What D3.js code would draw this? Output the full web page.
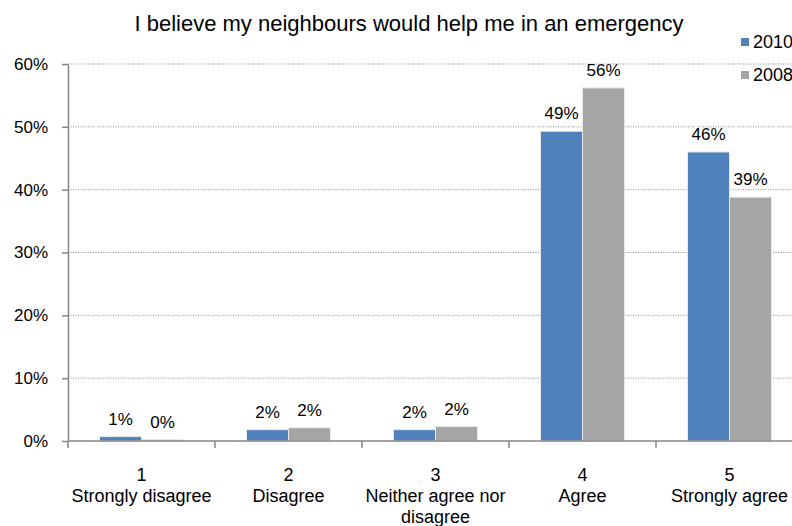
<!DOCTYPE html>
<html>
<head>
<meta charset="utf-8">
<script src="https://cdn.jsdelivr.net/npm/d3@7"></script>
<style>
body { margin: 0; background: #fff; }
text { font-family: "Liberation Sans", Arial, sans-serif; fill: #000; }
</style>
</head>
<body>
<div class="container"></div>
<script>
const wd = 792
const ht = 526

// data
const cats = ["1", "2", "3", "4", "5"]
const catLabels = [["Strongly disagree"], ["Disagree"], ["Neither agree nor", "disagree"], ["Agree"], ["Strongly agree"]]
const series = ["2010", "2008"]
const vals2010 = [0.7, 1.8, 1.8, 49.3, 46.0]
const vals2008 = [0.2, 2.1, 2.3, 56.2, 38.8]
const yTicks = [0, 10, 20, 30, 40, 50, 60]
const colors = ["#4f81bd", "#a5a5a5"]

const svgC = d3.select(".container")
.append("svg")
.attr("width", wd)
.attr("height", ht)

const mLeft = 68, mRight = 803, mTop = 64, mBottom = 441

const x = d3.scaleBand()
.domain(cats)
.range([mLeft, mRight])

const xs = d3.scaleBand()
.domain(series)
.range([0, x.bandwidth()])
.paddingInner(0)
.paddingOuter(0.75)

const y = d3.scaleLinear()
.domain([0, 60])
.range([mBottom, mTop])

// gridlines
svgC.append("g")
.selectAll("line")
.data(yTicks.slice(1))
.join("line")
.attr("x1", mLeft)
.attr("x2", wd)
.attr("y1", d => y(d))
.attr("y2", d => y(d))
.attr("stroke", "#8c8c8c")
.attr("stroke-width", 1)
.attr("stroke-dasharray", "1,1.5")

// y axis
const yAxis = svgC.append("g")
.attr("transform", `translate(${mLeft},0)`)
.call(d3.axisLeft(y).tickValues(yTicks).tickFormat(d => d + "%").tickSize(6).tickSizeOuter(0))
yAxis.select(".domain").attr("stroke", "#868686").attr("stroke-width", 1.5)
yAxis.selectAll(".tick line").attr("stroke", "#868686").attr("stroke-width", 1.5)
yAxis.selectAll(".tick text")
.attr("x", -20)
.style("font-size", "17px")
.style("font-family", "Liberation Sans, Arial, sans-serif")
.attr("fill", "#000")

// bars
const rows = cats.map((c, i) => ({cat: c, vals: [vals2010[i], vals2008[i]]}))
const grp = svgC.append("g")
.selectAll("g")
.data(rows)
.join("g")
.attr("transform", d => `translate(${x(d.cat)},0)`)

grp.selectAll("rect")
.data(d => d.vals.map((v, j) => ({s: series[j], v: v, j: j})))
.join("rect")
.attr("x", d => xs(d.s))
.attr("width", xs.bandwidth())
.attr("y", d => y(d.v))
.attr("height", d => mBottom - y(d.v))
.attr("fill", d => colors[d.j])
.attr("stroke", "#e8e8e8")
.attr("stroke-width", 1)

grp.selectAll("text")
.data(d => d.vals.map((v, j) => ({s: series[j], v: v, j: j})))
.join("text")
.attr("x", d => xs(d.s) + xs.bandwidth() / 2)
.attr("y", d => y(d.v) - 12)
.attr("text-anchor", "middle")
.style("font-size", "17px")
.text(d => Math.round(d.v) + "%")

// x axis
svgC.append("line")
.attr("x1", mLeft)
.attr("x2", wd)
.attr("y1", mBottom)
.attr("y2", mBottom)
.attr("stroke", "#868686")
.attr("stroke-width", 1.5)

svgC.append("g")
.selectAll("line")
.data(cats)
.join("line")
.attr("x1", d => x(d))
.attr("x2", d => x(d))
.attr("y1", mBottom)
.attr("y2", mBottom + 7)
.attr("stroke", "#868686")
.attr("stroke-width", 1.5)

const xl = svgC.append("g")
.selectAll("text")
.data(cats)
.join("text")
.attr("x", d => x(d) + x.bandwidth() / 2)
.attr("y", 481)
.attr("text-anchor", "middle")
.style("font-size", "18px")

xl.each(function(d, i) {
  const t = d3.select(this)
  t.append("tspan").attr("x", x(d) + x.bandwidth() / 2).attr("dy", 0).text(d)
  catLabels[i].forEach(l => {
    t.append("tspan").attr("x", x(d) + x.bandwidth() / 2).attr("dy", 21).text(l)
  })
})

// title
svgC.append("text")
.attr("x", 409)
.attr("y", 31)
.attr("text-anchor", "middle")
.style("font-size", "22px")
.text("I believe my neighbours would help me in an emergency")

// legend
const lg = svgC.append("g")
.selectAll("g")
.data(series)
.join("g")
.attr("transform", (d, i) => `translate(741,${38 + i * 33})`)

lg.append("rect")
.attr("width", 8)
.attr("height", 8)
.attr("fill", (d, i) => colors[i])

lg.append("text")
.attr("x", 12)
.attr("y", 10)
.style("font-size", "18px")
.text(d => d)
</script>
</body>
</html>
